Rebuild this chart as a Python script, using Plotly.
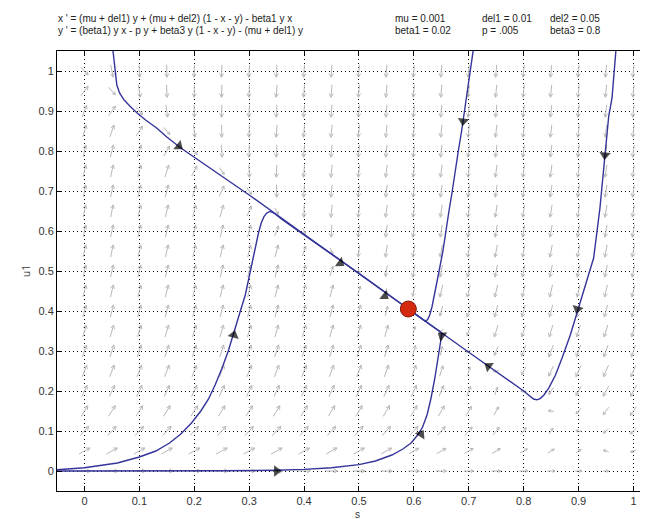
import numpy as np
import plotly.graph_objects as go

# ---- model parameters (as printed on the chart) ----
param_text = ["0.001", "0.01", "0.05", "0.02", ".005", "0.8"]
mu, del1, del2, beta1, p, beta3 = 0.001, 0.01, 0.05, 0.02, 0.005, 0.8

eq1 = "x ' = (mu + del1) y + (mu + del2) (1 - x - y) - beta1 y x"
eq2 = "y ' = (beta1) y x - p y + beta3 y (1 - x - y) - (mu + del1) y"

# ---- axes ----
x_ticks = [0, 0.1, 0.2, 0.3, 0.4, 0.5, 0.6, 0.7, 0.8, 0.9, 1]
y_ticks = [0, 0.1, 0.2, 0.3, 0.4, 0.5, 0.6, 0.7, 0.8, 0.9, 1]
x_range = [-0.05, 1.0411]
y_range = [-0.05, 1.05]

# ---- direction-field grid ----
field_x = [0, 0.05, 0.1, 0.15, 0.2, 0.25, 0.3, 0.35, 0.4, 0.45, 0.5,
           0.55, 0.6, 0.65, 0.7, 0.75, 0.8, 0.85, 0.9, 0.95, 1.0]
field_y = [0, 0.05, 0.1, 0.15, 0.2, 0.25, 0.3, 0.35, 0.4, 0.45, 0.5,
           0.55, 0.6, 0.65, 0.7, 0.75, 0.8, 0.85, 0.9, 0.95, 1.0]

# ---- trajectories ----
trajA_x = [0.052, 0.054, 0.056, 0.059, 0.064, 0.072, 0.083, 0.096, 0.112, 0.132, 0.15, 0.175, 0.21, 0.25, 0.30, 0.40, 0.50, 0.59]
trajA_y = [1.05, 1.02, 0.99, 0.965, 0.945, 0.928, 0.912, 0.895, 0.877, 0.857, 0.835, 0.808, 0.775, 0.738, 0.69, 0.592, 0.494, 0.405]

trajB_x = [0.968, 0.964, 0.961, 0.955, 0.948, 0.939, 0.9275, 0.917, 0.907, 0.899, 0.885, 0.87, 0.858, 0.846, 0.837, 0.83, 0.824, 0.818, 0.81, 0.80, 0.70, 0.59]
trajB_y = [1.05, 0.99, 0.9325, 0.8875, 0.79, 0.6575, 0.5325, 0.485, 0.44, 0.40, 0.34, 0.2825, 0.24, 0.208, 0.19, 0.181, 0.178, 0.18, 0.19, 0.20, 0.297, 0.405]

trajC_x = [0.708, 0.703, 0.698, 0.693, 0.687, 0.681, 0.676, 0.670, 0.664, 0.659, 0.653, 0.646, 0.639, 0.633, 0.629, 0.625, 0.62, 0.59]
trajC_y = [1.05, 1.0, 0.95, 0.90, 0.85, 0.80, 0.75, 0.70, 0.65, 0.60, 0.55, 0.50, 0.45, 0.41, 0.39, 0.378, 0.375, 0.405]

trajD_x = [-0.05, 0.0, 0.06, 0.10, 0.13, 0.155, 0.175, 0.195, 0.212, 0.226, 0.238, 0.25, 0.262, 0.274, 0.284, 0.293, 0.299, 0.305, 0.311, 0.317, 0.322, 0.327, 0.332, 0.338, 0.345, 0.36, 0.40, 0.50, 0.59]
trajD_y = [0.003, 0.008, 0.02, 0.035, 0.05, 0.07, 0.092, 0.12, 0.15, 0.18, 0.215, 0.255, 0.3, 0.357, 0.40, 0.44, 0.48, 0.52, 0.56, 0.595, 0.62, 0.636, 0.645, 0.649, 0.645, 0.629, 0.59, 0.494, 0.405]

trajE_x = [-0.05, 0.10, 0.25, 0.35, 0.40, 0.45, 0.50, 0.53, 0.56, 0.58, 0.595, 0.607, 0.616, 0.624, 0.631, 0.638, 0.644, 0.648, 0.651, 0.645, 0.62, 0.59]
trajE_y = [0.0, 0.0, 0.0005, 0.002, 0.004, 0.008, 0.016, 0.025, 0.04, 0.055, 0.07, 0.09, 0.11, 0.14, 0.18, 0.23, 0.28, 0.32, 0.343, 0.351, 0.375, 0.405]

# arrowheads on trajectories: tail point -> head point
arrow_tail_x = [0.16, 0.45, 0.535, 0.268, 0.33, 0.605, 0.663, 0.75, 0.951, 0.903, 0.692]
arrow_tail_y = [0.825, 0.536, 0.45, 0.32, 0.0, 0.075, 0.326, 0.248, 0.83, 0.43, 0.90]
arrow_head_x = [0.172, 0.466, 0.547, 0.272, 0.35, 0.613, 0.651, 0.736, 0.948, 0.898, 0.69]
arrow_head_y = [0.812, 0.52, 0.4375, 0.34, 0.0, 0.092, 0.338, 0.262, 0.79, 0.405, 0.875]

eq_x = [0.59]
eq_y = [0.405]

# ---- layout geometry ----
W, H = 648, 519
ml, mr, mt, mb = 49, 0, 43, 36
pw, ph = W - ml - mr, H - mt - mb
sx = pw / (x_range[1] - x_range[0])   # px per x unit
sy = ph / (y_range[1] - y_range[0])   # px per y unit


def f(x, y):
    return (mu + del1) * y + (mu + del2) * (1 - x - y) - beta1 * y * x


def g(x, y):
    return beta1 * y * x - p * y + beta3 * y * (1 - x - y) - (mu + del1) * y


# direction field arrows (screen-normalised, weakly scaled by magnitude)
L0 = 12.5
ang = np.deg2rad(28)
fx, fy = [], []
for xv in field_x:
    for yv in field_y:
        fu, gv = f(xv, yv), g(xv, yv)
        mag = np.hypot(fu, gv)
        u = fu * sx
        v = gv * sy
        n = np.hypot(u, v)
        if n == 0:
            continue
        u, v = u / n, v / n
        k = float(np.clip((mag / 0.03) ** (1 / 3), 0.45, 1.0))
        L = L0 * k
        HL = 4.2 * max(k, 0.7)
        x0, y0 = xv - u * L / 2 / sx, yv - v * L / 2 / sy
        x1, y1 = xv + u * L / 2 / sx, yv + v * L / 2 / sy
        fx += [x0, x1, None]
        fy += [y0, y1, None]
        for s in (1, -1):
            ca, sa = np.cos(s * ang), np.sin(s * ang)
            bu = -(u * ca - v * sa)
            bv = -(u * sa + v * ca)
            fx += [x1, x1 + bu * HL / sx, None]
            fy += [y1, y1 + bv * HL / sy, None]

fig = go.Figure()
fig.add_trace(go.Scatter(x=fx, y=fy, mode="lines",
                         line=dict(color="#b8b8b8", width=1),
                         hoverinfo="skip", showlegend=False))

traj_color = "#34349a"
for tx, ty in [(trajA_x, trajA_y), (trajB_x, trajB_y), (trajC_x, trajC_y),
               (trajD_x, trajD_y), (trajE_x, trajE_y)]:
    fig.add_trace(go.Scatter(x=tx, y=ty, mode="lines",
                             line=dict(color=traj_color, width=1.4),
                             hoverinfo="skip", showlegend=False))

ax_, ay_, sz = [], [], []
for i in range(len(arrow_head_x)):
    ax_ += [arrow_tail_x[i], arrow_head_x[i]]
    ay_ += [arrow_tail_y[i], arrow_head_y[i]]
    sz += [0, 10]
fig.add_trace(go.Scatter(x=ax_, y=ay_, mode="markers",
                         marker=dict(symbol="triangle-up", size=sz, color="black",
                                     angleref="previous", line=dict(width=0)),
                         hoverinfo="skip", showlegend=False))

fig.add_trace(go.Scatter(x=eq_x, y=eq_y, mode="markers",
                         marker=dict(size=16, color="#d42a10",
                                     line=dict(color="#8a1a08", width=1)),
                         hoverinfo="skip", showlegend=False))

axis_common = dict(showgrid=True, gridcolor="black", gridwidth=1, griddash="1px,3px",
                   zeroline=False, showline=True, linecolor="black", linewidth=1,
                   ticks="inside", ticklen=5, tickcolor="black",
                   tickfont=dict(family="Liberation Sans, Arial", size=11, color="#333333"))

fig.update_xaxes(range=x_range, tickvals=x_ticks, ticktext=[str(t) for t in x_ticks],
                 mirror="ticks", **axis_common)
fig.update_yaxes(range=y_range, tickvals=y_ticks, ticktext=[str(t) for t in y_ticks],
                 title=dict(text="u1", font=dict(size=10, color="#333"), standoff=6),
                 **axis_common)

ann = []
hdr_font = dict(family="Liberation Sans, Arial", size=10, color="#222")


def paper_xy(px, py):
    return (px - ml) / pw, (H - mb - py) / ph


for text, px, py in [(eq1, 48, 11), (eq2, 48, 22),
                     ("mu = " + param_text[0], 385, 11), ("del1 = " + param_text[1], 472, 11),
                     ("del2 = " + param_text[2], 540, 11),
                     ("beta1 = " + param_text[3], 385, 22), ("p = " + param_text[4], 472, 22),
                     ("beta3 = " + param_text[5], 540, 22)]:
    X, Y = paper_xy(px, py)
    ann.append(dict(text=text, x=X, y=Y, xref="paper", yref="paper", xanchor="left",
                    yanchor="middle", showarrow=False, font=hdr_font))

X, Y = paper_xy(349, 506)
ann.append(dict(text="s", x=X, y=Y, xref="paper", yref="paper", xanchor="center",
                yanchor="middle", showarrow=False, font=dict(family="Liberation Sans, Arial", size=10, color="#333")))

fig.update_layout(width=W, height=H, margin=dict(l=ml, r=mr, t=mt, b=mb),
                  plot_bgcolor="white", paper_bgcolor="white", annotations=ann)

fig.write_html("out.html")
